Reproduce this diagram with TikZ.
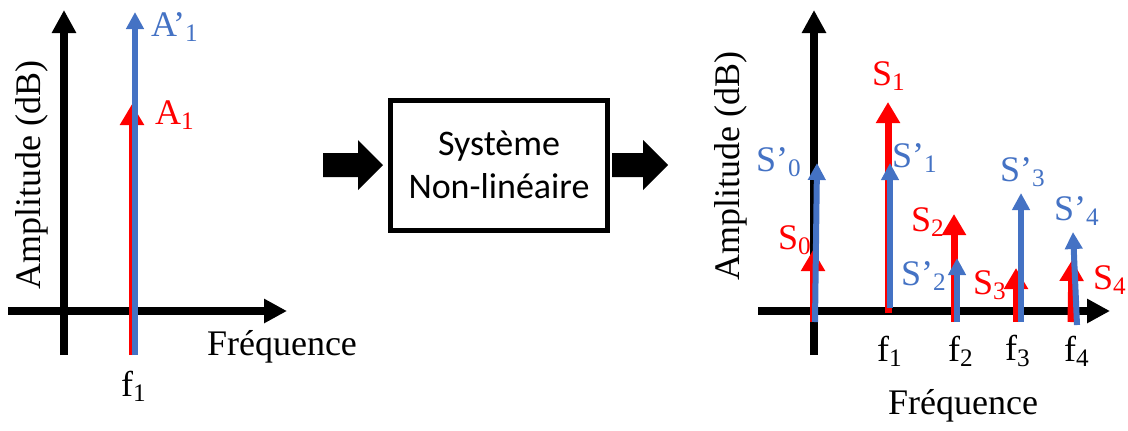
\documentclass[tikz,border=0pt]{standalone}
\usepackage{fontspec}
\setmainfont{Liberation Serif}
\newfontfamily\boxfont{Carlito}
\usetikzlibrary{arrows.meta}
\definecolor{sred}{RGB}{255,0,0}
\definecolor{sblue}{RGB}{68,114,196}
\tikzset{
  axis/.style={line width=4pt, -{Triangle[width=11.5pt,length=11.5pt]}},
  redline/.style={draw=sred, line width=3.5pt, -{Triangle[width=11.5pt,length=10.5pt]}},
  blueline/.style={draw=sblue, line width=3pt, -{Triangle[width=8.5pt,length=8.5pt]}},
  lbl/.style={font=\fontsize{18}{20}\selectfont, inner sep=0pt},
  redlbl/.style={lbl, text=sred},
  bluelbl/.style={lbl, text=sblue}
}
\begin{document}
\begin{tikzpicture}[x=0.5pt, y=-0.5pt]
    \useasboundingbox (0,0) rectangle (1128,430);

    % 输入频谱
    \draw[axis] (64,355) -- (64,10);
    \draw[axis] (8,311) -- (287,311);
    \draw[redline] (132,355) -- (132,104);
    \draw[blueline] (135,355) -- (135,12);
    \node[bluelbl] (lA1p) at (175,27) {A’\textsubscript{1}};
    \node[redlbl] (lA1) at (175,115) {A\textsubscript{1}};
    \node[lbl] (lf1) at (134,386) {f\textsubscript{1}};
    \node[lbl] (lfreq) at (282,347) {Fréquence};
    \node[lbl, rotate=90] (lamp) at (32,175) {Amplitude (dB)};

    % 系统
    \node[draw, line width=2.5pt, minimum width=108.5pt, minimum height=65pt,
          align=center, font=\boxfont\fontsize{18}{21.5}\selectfont] (sys) at (499,165)
          {Système\\Non-linéaire};
    \fill (323,153) -- (358,153) -- (358,140) -- (383,165) -- (358,190) -- (358,177) -- (323,177) -- cycle;
    \fill (612,153) -- (643,153) -- (643,140) -- (668,165) -- (643,190) -- (643,177) -- (612,177) -- cycle;

    % 输出频谱
    \draw[axis] (814,355) -- (814,10);
    \draw[axis] (758,311) -- (1110,311);
    \draw[redline] (813,322) -- (813,250);
    \draw[redline] (888,313) -- (888,102);
    \draw[redline] (954,322) -- (954,214);
    \draw[redline] (1016,322) -- (1016,268);
    \draw[redline] (1071,322) -- (1072,260);
    \draw[blueline] (815,322) -- (817,163);
    \draw[blueline] (890,308) -- (890,163);
    \draw[blueline] (957,322) -- (957,258);
    \draw[blueline] (1021,322) -- (1021,193);
    \draw[blueline] (1077,325) -- (1073,232);

    % 标签
    \node[redlbl] (rS0) at (795,240) {S\textsubscript{0}};
    \node[redlbl] (rS1) at (889,76) {S\textsubscript{1}};
    \node[redlbl] (rS2) at (928,222) {S\textsubscript{2}};
    \node[redlbl] (rS3) at (990,285) {S\textsubscript{3}};
    \node[redlbl] (rS4) at (1110,280) {S\textsubscript{4}};
    \node[bluelbl] (rS0p) at (779,162) {S’\textsubscript{0}};
    \node[bluelbl] (rS1p) at (915,158) {S’\textsubscript{1}};
    \node[bluelbl] (rS2p) at (924,276) {S’\textsubscript{2}};
    \node[bluelbl] (rS3p) at (1023,172) {S’\textsubscript{3}};
    \node[bluelbl] (rS4p) at (1077,211) {S’\textsubscript{4}};
    \node[lbl] (rf1) at (890,351) {f\textsubscript{1}};
    \node[lbl] (rf2) at (961,351) {f\textsubscript{2}};
    \node[lbl] (rf3) at (1018,351) {f\textsubscript{3}};
    \node[lbl] (rf4) at (1077,351) {f\textsubscript{4}};
    \node[lbl] (rfreq) at (963,406) {Fréquence};
    \node[lbl, rotate=90] (ramp) at (731,166) {Amplitude (dB)};
\end{tikzpicture}
\end{document}
